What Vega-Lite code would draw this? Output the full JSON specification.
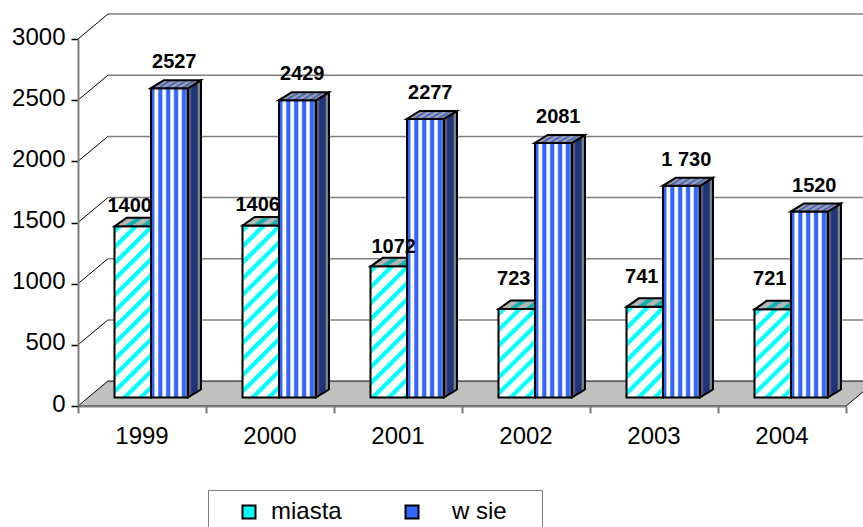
{
"$schema":"https://vega.github.io/schema/vega-lite/v6.json",
"width":768,"height":367,
"autosize":"none",
"padding":{"left":78,"top":39,"right":17,"bottom":121},
"background":"white",
"config":{"view":{"stroke":null},"font":"Liberation Sans"},
"datasets":{
"bars":[
{"year":"1999","series":"miasta","value":1400,"label":"1400"},
{"year":"2000","series":"miasta","value":1406,"label":"1406"},
{"year":"2001","series":"miasta","value":1072,"label":"1072"},
{"year":"2002","series":"miasta","value":723,"label":"723"},
{"year":"2003","series":"miasta","value":741,"label":"741"},
{"year":"2004","series":"miasta","value":721,"label":"721"},
{"year":"1999","series":"w sie","value":2527,"label":"2527"},
{"year":"2000","series":"w sie","value":2429,"label":"2429"},
{"year":"2001","series":"w sie","value":2277,"label":"2277"},
{"year":"2002","series":"w sie","value":2081,"label":"2081"},
{"year":"2003","series":"w sie","value":1730,"label":"1 730"},
{"year":"2004","series":"w sie","value":1520,"label":"1520"}
],
"wall":[
{"level":500,"pos":0,"y":500},{"level":500,"pos":0.234,"y":704},
{"level":1000,"pos":0,"y":1000},{"level":1000,"pos":0.234,"y":1204},
{"level":1500,"pos":0,"y":1500},{"level":1500,"pos":0.234,"y":1704},
{"level":2000,"pos":0,"y":2000},{"level":2000,"pos":0.234,"y":2204},
{"level":2500,"pos":0,"y":2500},{"level":2500,"pos":0.234,"y":2704},
{"level":3000,"pos":0,"y":3000},{"level":3000,"pos":0.234,"y":3204}
],
"back":[
{"level":500,"pos":0.234,"y":704},{"level":500,"pos":6.234,"y":704},
{"level":1000,"pos":0.234,"y":1204},{"level":1000,"pos":6.234,"y":1204},
{"level":1500,"pos":0.234,"y":1704},{"level":1500,"pos":6.234,"y":1704},
{"level":2000,"pos":0.234,"y":2204},{"level":2000,"pos":6.234,"y":2204},
{"level":2500,"pos":0.234,"y":2704},{"level":2500,"pos":6.234,"y":2704},
{"level":3000,"pos":0.234,"y":3204},{"level":3000,"pos":6.234,"y":3204}
],
"floor":[
{"y":0,"left":0,"right":6},
{"y":204,"left":0.234,"right":6.234}
],
"sides":[
{"year":"1999","pos":0.859,"lo":70,"hi":2597},{"year":"1999","pos":0.961,"lo":135,"hi":2662},
{"year":"2000","pos":1.859,"lo":70,"hi":2499},{"year":"2000","pos":1.961,"lo":135,"hi":2564},
{"year":"2001","pos":2.859,"lo":70,"hi":2347},{"year":"2001","pos":2.961,"lo":135,"hi":2412},
{"year":"2002","pos":3.859,"lo":70,"hi":2151},{"year":"2002","pos":3.961,"lo":135,"hi":2216},
{"year":"2003","pos":4.859,"lo":70,"hi":1800},{"year":"2003","pos":4.961,"lo":135,"hi":1865},
{"year":"2004","pos":5.859,"lo":70,"hi":1590},{"year":"2004","pos":5.961,"lo":135,"hi":1655}
],
"legendRows":[{"series":"miasta"},{"series":"w sie"}]
},
"resolve":{"scale":{"x":"independent","y":"independent"},"axis":{"x":"independent","y":"independent"}},
"layer":[
{
"layer":[
{"data":{"name":"back"},"mark":{"type":"line","stroke":"#808080","strokeWidth":1.5},
"encoding":{
"x":{"field":"pos","type":"quantitative","scale":{"domain":[0,6],"nice":false,"zero":false},
"axis":{"orient":"bottom","values":[0,1,2,3,4,5,6],"labels":false,"title":null,"grid":false,"tickSize":7,"tickColor":"#808080","tickWidth":2,"domainColor":"#808080","domainWidth":2,"zindex":1}},
"y":{"field":"y","type":"quantitative","scale":{"domain":[0,3000],"nice":false,"zero":true},
"axis":{"orient":"left","format":"d","values":[0,500,1000,1500,2000,2500,3000],"title":null,"grid":false,"tickSize":7,"tickColor":"black","tickWidth":1.5,"domainColor":"#808080","domainWidth":2,"labelFontSize":24,"labelColor":"black","labelPadding":6,"labelOffset":-2,"zindex":1}},
"detail":{"field":"level"}}},
{"data":{"name":"wall"},"mark":{"type":"line","stroke":"black","strokeWidth":1},
"encoding":{"x":{"field":"pos","type":"quantitative"},"y":{"field":"y","type":"quantitative"},"detail":{"field":"level"}}},
{"data":{"name":"floor"},"mark":{"type":"area","orient":"horizontal","fill":"#C0C0C0","stroke":"black","strokeWidth":1},
"encoding":{"y":{"field":"y","type":"quantitative"},"x":{"field":"left","type":"quantitative"},"x2":{"field":"right"}}},
{"data":{"name":"sides"},"mark":{"type":"area","stroke":"black","strokeWidth":2,"fill":{"gradient":"linear","x1":0,"y1":0,"x2":1,"y2":0,"stops":[{"offset":0,"color":"#555c72"},{"offset":0.2,"color":"#555c72"},{"offset":0.3,"color":"#1f3478"},{"offset":0.7,"color":"#1f3478"},{"offset":0.8,"color":"#808080"},{"offset":1,"color":"#808080"}]}},
"encoding":{"x":{"field":"pos","type":"quantitative"},"y":{"field":"lo","type":"quantitative"},"y2":{"field":"hi"},"detail":{"field":"year"}}}
]
},
{
"data":{"name":"bars"},
"encoding":{
"x":{"field":"year","type":"nominal","scale":{"range":[9,777],"paddingInner":0,"paddingOuter":0},
"axis":{"orient":"bottom","title":null,"ticks":false,"domain":false,"labelAngle":0,"labelFontSize":24,"labelColor":"black","labelPadding":18,"labelOffset":-9,"grid":false}},
"xOffset":{"field":"series","type":"nominal","scale":{"domain":["miasta","w sie"],"paddingInner":0,"paddingOuter":0.753}},
"y":{"field":"value","type":"quantitative","stack":null,"scale":{"domain":[0,3000],"range":[358.5,-8.5],"nice":false,"zero":true},"axis":null}
},
"layer":[
{"transform":[{"filter":"datum.series=='miasta' && datum.value>=1300"}],"mark":{"type":"bar","stroke":"black","strokeWidth":2,"fill":
{"gradient":"linear","x1":0,"y1":0,"x2":0.2440,"y2":1.1592,"stops":[{"offset":0,"color":"#fff"},{"offset":0.00483,"color":"#fff"},{"offset":0.01449,"color":"#0ff"},{"offset":0.03382,"color":"#0ff"},{"offset":0.04348,"color":"#fff"},{"offset":0.08213,"color":"#fff"},{"offset":0.09179,"color":"#0ff"},{"offset":0.11111,"color":"#0ff"},{"offset":0.12077,"color":"#fff"},{"offset":0.15942,"color":"#fff"},{"offset":0.16908,"color":"#0ff"},{"offset":0.18841,"color":"#0ff"},{"offset":0.19807,"color":"#fff"},{"offset":0.23671,"color":"#fff"},{"offset":0.24638,"color":"#0ff"},{"offset":0.26570,"color":"#0ff"},{"offset":0.27536,"color":"#fff"},{"offset":0.31401,"color":"#fff"},{"offset":0.32367,"color":"#0ff"},{"offset":0.34300,"color":"#0ff"},{"offset":0.35266,"color":"#fff"},{"offset":0.39130,"color":"#fff"},{"offset":0.40097,"color":"#0ff"},{"offset":0.42029,"color":"#0ff"},{"offset":0.42995,"color":"#fff"},{"offset":0.46860,"color":"#fff"},{"offset":0.47826,"color":"#0ff"},{"offset":0.49758,"color":"#0ff"},{"offset":0.50725,"color":"#fff"},{"offset":0.54589,"color":"#fff"},{"offset":0.55556,"color":"#0ff"},{"offset":0.57488,"color":"#0ff"},{"offset":0.58454,"color":"#fff"},{"offset":0.62319,"color":"#fff"},{"offset":0.63285,"color":"#0ff"},{"offset":0.65217,"color":"#0ff"},{"offset":0.66184,"color":"#fff"},{"offset":0.70048,"color":"#fff"},{"offset":0.71014,"color":"#0ff"},{"offset":0.72947,"color":"#0ff"},{"offset":0.73913,"color":"#fff"},{"offset":0.77778,"color":"#fff"},{"offset":0.78744,"color":"#0ff"},{"offset":0.80676,"color":"#0ff"},{"offset":0.81643,"color":"#fff"},{"offset":0.85507,"color":"#fff"},{"offset":0.86473,"color":"#0ff"},{"offset":0.88406,"color":"#0ff"},{"offset":0.89372,"color":"#fff"},{"offset":0.93237,"color":"#fff"},{"offset":0.94203,"color":"#0ff"},{"offset":0.96135,"color":"#0ff"},{"offset":0.97101,"color":"#fff"}]}}},
{"transform":[{"filter":"datum.series=='miasta' && datum.value>=1000 && datum.value<1300"}],"mark":{"type":"bar","stroke":"black","strokeWidth":2,"fill":
{"gradient":"linear","x1":0,"y1":0,"x2":0.4038,"y2":1.4692,"stops":[{"offset":0,"color":"#fff"},{"offset":0.00483,"color":"#fff"},{"offset":0.01449,"color":"#0ff"},{"offset":0.03382,"color":"#0ff"},{"offset":0.04348,"color":"#fff"},{"offset":0.08213,"color":"#fff"},{"offset":0.09179,"color":"#0ff"},{"offset":0.11111,"color":"#0ff"},{"offset":0.12077,"color":"#fff"},{"offset":0.15942,"color":"#fff"},{"offset":0.16908,"color":"#0ff"},{"offset":0.18841,"color":"#0ff"},{"offset":0.19807,"color":"#fff"},{"offset":0.23671,"color":"#fff"},{"offset":0.24638,"color":"#0ff"},{"offset":0.26570,"color":"#0ff"},{"offset":0.27536,"color":"#fff"},{"offset":0.31401,"color":"#fff"},{"offset":0.32367,"color":"#0ff"},{"offset":0.34300,"color":"#0ff"},{"offset":0.35266,"color":"#fff"},{"offset":0.39130,"color":"#fff"},{"offset":0.40097,"color":"#0ff"},{"offset":0.42029,"color":"#0ff"},{"offset":0.42995,"color":"#fff"},{"offset":0.46860,"color":"#fff"},{"offset":0.47826,"color":"#0ff"},{"offset":0.49758,"color":"#0ff"},{"offset":0.50725,"color":"#fff"},{"offset":0.54589,"color":"#fff"},{"offset":0.55556,"color":"#0ff"},{"offset":0.57488,"color":"#0ff"},{"offset":0.58454,"color":"#fff"},{"offset":0.62319,"color":"#fff"},{"offset":0.63285,"color":"#0ff"},{"offset":0.65217,"color":"#0ff"},{"offset":0.66184,"color":"#fff"},{"offset":0.70048,"color":"#fff"},{"offset":0.71014,"color":"#0ff"},{"offset":0.72947,"color":"#0ff"},{"offset":0.73913,"color":"#fff"},{"offset":0.77778,"color":"#fff"},{"offset":0.78744,"color":"#0ff"},{"offset":0.80676,"color":"#0ff"},{"offset":0.81643,"color":"#fff"}]}}},
{"transform":[{"filter":"datum.series=='miasta' && datum.value<1000"}],"mark":{"type":"bar","stroke":"black","strokeWidth":2,"fill":
{"gradient":"linear","x1":0,"y1":0,"x2":0.8085,"y2":1.9988,"stops":[{"offset":0,"color":"#fff"},{"offset":0.00483,"color":"#fff"},{"offset":0.01449,"color":"#0ff"},{"offset":0.03382,"color":"#0ff"},{"offset":0.04348,"color":"#fff"},{"offset":0.08213,"color":"#fff"},{"offset":0.09179,"color":"#0ff"},{"offset":0.11111,"color":"#0ff"},{"offset":0.12077,"color":"#fff"},{"offset":0.15942,"color":"#fff"},{"offset":0.16908,"color":"#0ff"},{"offset":0.18841,"color":"#0ff"},{"offset":0.19807,"color":"#fff"},{"offset":0.23671,"color":"#fff"},{"offset":0.24638,"color":"#0ff"},{"offset":0.26570,"color":"#0ff"},{"offset":0.27536,"color":"#fff"},{"offset":0.31401,"color":"#fff"},{"offset":0.32367,"color":"#0ff"},{"offset":0.34300,"color":"#0ff"},{"offset":0.35266,"color":"#fff"},{"offset":0.39130,"color":"#fff"},{"offset":0.40097,"color":"#0ff"},{"offset":0.42029,"color":"#0ff"},{"offset":0.42995,"color":"#fff"},{"offset":0.46860,"color":"#fff"},{"offset":0.47826,"color":"#0ff"},{"offset":0.49758,"color":"#0ff"},{"offset":0.50725,"color":"#fff"},{"offset":0.54589,"color":"#fff"},{"offset":0.55556,"color":"#0ff"},{"offset":0.57488,"color":"#0ff"},{"offset":0.58454,"color":"#fff"}]}}},
{"transform":[{"filter":"datum.series=='miasta'"}],"mark":{"type":"point","filled":true,"opacity":1,"size":4,"shape":"M-18,0 L18,0 L30,-8.5 L-6,-8.5 Z","stroke":"black","strokeWidth":2,"fill":{"gradient":"linear","x1":0,"y1":0,"x2":1.176,"y2":0.294,"stops":[{"offset":0,"color":"#b5b5b5"},{"offset":0.08,"color":"#b5b5b5"},{"offset":0.12,"color":"#10b0b0"},{"offset":0.2,"color":"#10b0b0"},{"offset":0.24,"color":"#b5b5b5"},{"offset":0.34,"color":"#b5b5b5"},{"offset":0.38,"color":"#10b0b0"},{"offset":0.46,"color":"#10b0b0"},{"offset":0.5,"color":"#b5b5b5"},{"offset":0.6,"color":"#b5b5b5"},{"offset":0.64,"color":"#10b0b0"},{"offset":0.72,"color":"#10b0b0"},{"offset":0.76,"color":"#b5b5b5"}]}}},
{"transform":[{"filter":"datum.series=='w sie'"}],"mark":{"type":"bar","stroke":"black","strokeWidth":2,"fill":{"gradient":"linear","x1":0,"y1":0,"x2":1,"y2":0,"stops":[{"offset":0,"color":"#3366ff"},{"offset":0.0757,"color":"#3366ff"},{"offset":0.1135,"color":"#fff"},{"offset":0.1757,"color":"#fff"},{"offset":0.2162,"color":"#3366ff"},{"offset":0.2919,"color":"#3366ff"},{"offset":0.3297,"color":"#fff"},{"offset":0.3919,"color":"#fff"},{"offset":0.4324,"color":"#3366ff"},{"offset":0.5081,"color":"#3366ff"},{"offset":0.5459,"color":"#fff"},{"offset":0.6081,"color":"#fff"},{"offset":0.6486,"color":"#3366ff"},{"offset":0.7243,"color":"#3366ff"},{"offset":0.7621,"color":"#fff"},{"offset":0.8243,"color":"#fff"},{"offset":0.8649,"color":"#3366ff"},{"offset":0.9405,"color":"#3366ff"},{"offset":0.9783,"color":"#fff"},{"offset":1,"color":"#fff"}]}}},
{"transform":[{"filter":"datum.series=='w sie'"}],"mark":{"type":"point","filled":true,"opacity":1,"size":4,"shape":"M-18.5,0 L18.5,0 L31.5,-8 L-5.5,-8 Z","stroke":"black","strokeWidth":2,"fill":{"gradient":"linear","x1":0,"y1":0,"x2":1.18,"y2":0.307,"stops":[{"offset":0,"color":"#b0b0b0"},{"offset":0.0635,"color":"#3d5cb8"},{"offset":0.127,"color":"#b0b0b0"},{"offset":0.1905,"color":"#3d5cb8"},{"offset":0.254,"color":"#b0b0b0"},{"offset":0.3175,"color":"#3d5cb8"},{"offset":0.381,"color":"#b0b0b0"},{"offset":0.4445,"color":"#3d5cb8"},{"offset":0.508,"color":"#b0b0b0"},{"offset":0.5715,"color":"#3d5cb8"},{"offset":0.635,"color":"#b0b0b0"},{"offset":0.6985,"color":"#3d5cb8"},{"offset":0.762,"color":"#b0b0b0"},{"offset":0.8255,"color":"#3d5cb8"},{"offset":0.889,"color":"#b0b0b0"},{"offset":0.9525,"color":"#3d5cb8"},{"offset":1,"color":"#b0b0b0"}]}}},
{"transform":[{"filter":"datum.series=='miasta' && datum.value>=1300"}],"mark":{"type":"text","fontSize":20,"fontWeight":"bold","color":"black","dx":-3,"dy":-20},"encoding":{"text":{"field":"label"}}},
{"transform":[{"filter":"datum.series=='miasta' && datum.value>=1000 && datum.value<1300"}],"mark":{"type":"text","fontSize":20,"fontWeight":"bold","color":"black","dx":5,"dy":-19},"encoding":{"text":{"field":"label"}}},
{"transform":[{"filter":"datum.series=='miasta' && datum.value<1000"}],"mark":{"type":"text","fontSize":20,"fontWeight":"bold","color":"black","dx":-3,"dy":-30},"encoding":{"text":{"field":"label"}}},
{"transform":[{"filter":"datum.series=='w sie'"}],"mark":{"type":"text","fontSize":20,"fontWeight":"bold","color":"black","dx":5,"dy":-26},"encoding":{"text":{"field":"label"}}},
{"data":{"name":"legendRows"},"mark":{"type":"point","filled":true,"shape":"square","opacity":1},
"encoding":{
"x":{"value":0},"y":{"value":0},"xOffset":null,
"size":{"value":0},
"fill":{"field":"series","type":"nominal","scale":{"domain":["miasta","w sie"],"range":["#0ff","#3366ff"]},
"legend":{"orient":"none","legendX":130,"legendY":451,"direction":"horizontal","columns":2,"title":"\u00a0","titleOrient":"left","titlePadding":19,"titleFontSize":12,"padding":10,"strokeColor":"#808080","fillColor":"white","symbolType":"square","symbolSize":169,"symbolStrokeColor":"black","symbolStrokeWidth":2,"labelFontSize":24,"labelColor":"black","labelOffset":10,"columnPadding":58,"labelLimit":400,"labelExpr":"datum.value=='w sie'?'\u2800w sie\u00a0\u2800':datum.label"}}}}
]
}
]
}
